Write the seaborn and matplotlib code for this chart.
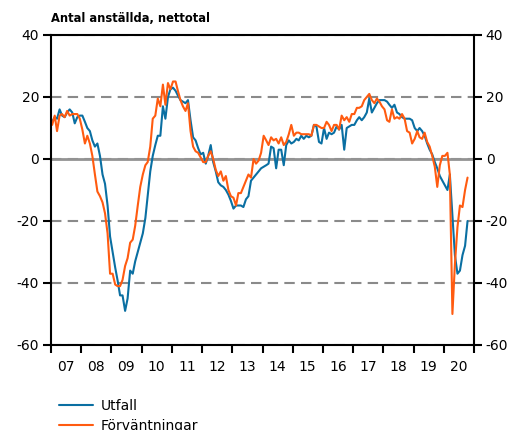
import matplotlib
matplotlib.use('Agg')
import matplotlib.pyplot as plt
import matplotlib.dates as mdates
import pandas as pd
import seaborn as sns

# Monthly net balances, Jan 2007 - Oct 2020
utfall = [
    12, 13.5, 13, 16, 14, 13.5, 15, 16, 15, 11.5, 13.5, 14,          # 2007
    14, 12, 10, 9, 6, 4, 5, 1, -5, -8, -15, -25,                      # 2008
    -30, -35, -39, -44, -44, -49, -45, -36, -37, -33, -30, -27,       # 2009
    -24, -19, -12, -4, 1, 4.5, 7.5, 7.5, 17, 13, 20, 22.5,            # 2010
    23, 22, 20.5, 19, 18.5, 18, 19, 12.5, 7, 6, 3.5, 1.5,             # 2011
    2, -1.5, 1, 4.5, -1, -4, -7.5, -8.5, -9, -10, -11.5, -13.5,       # 2012
    -16, -15, -15, -15, -15.5, -13, -12, -7, -6, -5, -4, -3,          # 2013
    -2.5, -2, -1.5, 4, 3.5, -3, 3, 3, -2, 4.5, 6, 5,                  # 2014
    5.5, 6.5, 6, 7.5, 6.5, 7.5, 7, 7.5, 11, 10.5, 5.5, 5,             # 2015
    10, 6.5, 8.5, 8, 8.5, 10.5, 9.5, 11, 3, 10, 10.5, 11,             # 2016
    11, 12.5, 13.5, 12.5, 13.5, 15, 19.5, 15, 16.5, 18, 19, 19,       # 2017
    19, 18.5, 17.5, 16.5, 17.5, 15, 14.5, 13.5, 13, 13, 13, 12.5,     # 2018
    10, 9, 10, 9, 7.5, 5, 3, 1.5, -1, -3, -5.5, -7,                   # 2019
    -8.5, -10, -5, -18, -31, -37, -36, -31, -28, -20,                 # 2020
]
forvantningar = [
    11, 14, 9, 14, 14.5, 13.5, 15.5, 14, 14.5, 14.5, 14.5, 13,        # 2007
    9.5, 5, 7.5, 5, 1, -5, -10.5, -12, -14, -17.5, -24, -37,          # 2008
    -37, -40.5, -41, -41, -39, -34.5, -32, -27, -26, -21.5, -15, -9,  # 2009
    -5, -2, -1, 4, 13, 14, 19.5, 17, 24, 17.5, 24.5, 22.5,            # 2010
    25, 25, 22, 19, 17, 15.5, 18, 9, 4, 2.5, 2, 0.5,                  # 2011
    -1, -1, 1, 2.5, 0, -3.5, -5.5, -4, -7, -5.5, -10, -12,            # 2012
    -12.5, -15, -11, -11, -9, -7, -5, -6, 0, -1.5, -0.5, 2,           # 2013
    7.5, 6, 4.5, 7, 6, 6.5, 5, 7, 4.5, 5.5, 8, 11,                    # 2014
    7.5, 8.5, 8.5, 8, 8, 8, 8, 7.5, 11, 11, 10.5, 10,                 # 2015
    10, 12, 11, 9, 11, 11, 9.5, 14, 12.5, 13.5, 12, 14.5,             # 2016
    14.5, 16.5, 16.5, 17, 19, 20, 21, 19, 18, 19.5, 18.5, 17,         # 2017
    16, 12.5, 12, 16, 13, 13.5, 13, 14.5, 13, 9, 8.5, 5,              # 2018
    6.5, 9, 7, 6.5, 8.5, 5.5, 4, 1, -2.5, -9, -2, 1,                  # 2019
    1, 2, -5, -50, -34, -22, -15, -15.5, -10, -6,                     # 2020
]
series_names = ['Utfall', 'Förväntningar']
palette = {'Utfall': '#0a6fa2', 'Förväntningar': '#ff5b10'}
y_ticks = [-60, -40, -20, 0, 20, 40]
title = 'Antal anställda, nettotal'

dates = pd.date_range('2007-01-01', periods=len(utfall), freq='MS') + pd.Timedelta(days=14)
df = pd.DataFrame({'date': dates, 'Utfall': utfall, 'Förväntningar': forvantningar})
long_df = df.melt(id_vars='date', value_vars=series_names, var_name='serie', value_name='value')

sns.set_theme(style='white', rc={
    'text.color': 'black', 'xtick.color': 'black', 'ytick.color': 'black',
    'axes.edgecolor': 'black', 'axes.linewidth': 1.5,
})
plt.rcParams['font.family'] = ['DejaVu Sans']
plt.rcParams['axes.unicode_minus'] = False

fig = plt.figure(figsize=(5.26, 4.30), dpi=100)
ax = fig.add_axes([51 / 526, 85 / 430, 423 / 526, 310 / 430])

sns.lineplot(data=long_df, x='date', y='value', hue='serie', hue_order=series_names,
             palette=palette, linewidth=1.5, ax=ax)

# grid: dashed at ticks, solid zero line
ax.set_yticks(y_ticks)
ax.set_ylim(-60, 40)
ax.grid(axis='y', color='#8a8a8a', linestyle=(0, (5, 3)), linewidth=1.5)
ax.set_axisbelow(True)
ax.axhline(0, color='#939393', linewidth=2, zorder=1.5)

# x axis: ticks at year boundaries, labels mid-year
ax.set_xlim(pd.Timestamp('2007-01-01'), pd.Timestamp('2021-01-01'))
ax.xaxis.set_major_locator(mdates.YearLocator())
ax.xaxis.set_major_formatter(matplotlib.ticker.NullFormatter())
ax.xaxis.set_minor_locator(mdates.YearLocator(month=7, day=1))
ax.xaxis.set_minor_formatter(mdates.DateFormatter('%y'))
ax.tick_params(axis='x', which='major', bottom=True, length=6, width=1.5, direction='out')
ax.tick_params(axis='x', which='minor', bottom=True, length=0, pad=11, labelsize=10)
ax.tick_params(axis='y', left=True, right=True, labelleft=True, labelright=True,
               length=6, width=1.5, direction='out', pad=2.5, labelsize=10)
ax.set_xlabel('')
ax.set_ylabel('')
for s in ax.spines.values():
    s.set_visible(True)
    s.set_color('black')
    s.set_linewidth(1.5)

fig.text(51 / 526, 1 - 22.5 / 430, title, fontsize=8.3, fontweight='bold',
         ha='left', va='baseline')

sns.move_legend(ax, 'upper left', bbox_to_anchor=(59 / 526, 1 - 399 / 430),
                bbox_transform=fig.transFigure, frameon=False, title=None,
                fontsize=10, handlelength=2.45, handletextpad=0.55,
                labelspacing=0.42, borderpad=0, borderaxespad=0)

fig.savefig('out.png', dpi=100)
